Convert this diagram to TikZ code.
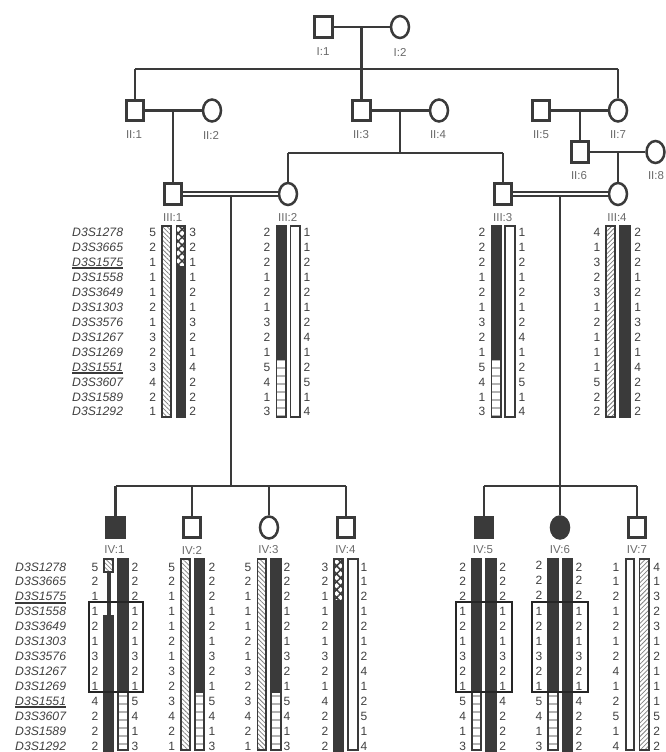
\documentclass[tikz,border=0pt]{standalone}
\usepackage{fontspec}
\setmainfont{Liberation Sans}
\usetikzlibrary{shapes.geometric,patterns.meta}
\definecolor{ink}{HTML}{3A3A3A}
\definecolor{txt}{HTML}{404040}
\definecolor{lab}{HTML}{6A6A6A}
\tikzset{
  male/.style={draw=ink,fill=white,rectangle,line width=2.9pt,inner sep=0,minimum width=17.5pt,minimum height=20.5pt},
  female/.style={draw=ink,fill=white,ellipse,line width=2.5pt,inner sep=0,minimum width=18pt,minimum height=22pt},
  affected/.style={fill=ink},
  idlab/.style={text=lab,font=\fontsize{11.5}{12}\selectfont,inner sep=0},
  num/.style={text=txt,font=\fontsize{12}{12}\selectfont,inner sep=0,text height=8.6pt,text depth=0pt},
  marker/.style={text=txt,font=\fontsize{12.2}{12}\selectfont\itshape,inner sep=0,anchor=west,text height=8.6pt,text depth=0pt},
  link/.style={draw=ink,line width=2.4pt},
  thinlink/.style={draw=ink,line width=1.8pt},
  twin/.style={draw=ink,double=white,double distance=2.2pt,line width=1.8pt},
  under/.style={draw=ink,line width=2pt},
  regionbox/.style={draw=black!85,line width=1.6pt},
  barbox/.style={draw=ink,line width=1.6pt,fill=white},
  solidbar/.style={fill=ink},
  nwhatch/.style={barbox,pattern={Lines[angle=-45,distance=3.2pt,line width=.75pt]},pattern color=black!50},
  nehatch/.style={barbox,pattern={Lines[angle=45,distance=3.2pt,line width=.75pt]},pattern color=black!50},
  stripes/.style={barbox,pattern={Lines[angle=0,distance=8pt,line width=1.6pt]},pattern color=black!30},
  checks/.style={barbox,pattern={Hatch[angle=45,distance=5.6pt,line width=1.5pt]},pattern color=ink},
}
\newcommand\solidseg[4]{\fill[solidbar] (#1,#3) rectangle (#2,#4);}
\newcommand\boxseg[5]{\draw[#5] ({#1+.8},{#3+.8}) rectangle ({#2-.8},{#4-.8});}
\newcommand\alleles[4]{\foreach \v [count=\i from 0] in {#4} {\node[num] (#1-\i) at (#2,{#3+14.93*\i}) {\v};}}
\newcommand\markers[3]{\foreach \v [count=\i from 0] in {D3S1278,D3S3665,D3S1575,D3S1558,D3S3649,D3S1303,D3S3576,D3S1267,D3S1269,D3S1551,D3S3607,D3S1589,D3S1292} {\node[marker] (#1-\i) at (#2,{#3+14.93*\i}) {\v};}
  \draw[under] ([yshift=-6pt]#1-2.west) -- ([yshift=-6pt]#1-2.east);
  \draw[under] ([yshift=-6pt]#1-9.west) -- ([yshift=-6pt]#1-9.east);}
\begin{document}
\begin{tikzpicture}[x=1pt,y=-1pt]
\fill[white] (0,0) rectangle (665,752);
\useasboundingbox (0,0) rectangle (665,752);
% persons
\node[male] (I1) at (323.5,27) {};
\node[female] (I2) at (400,27) {};
\node[male] (II1) at (135,110.5) {};
\node[female] (II2) at (212,110.5) {};
\node[male] (II3) at (361.5,110.5) {};
\node[female] (II4) at (439,110.5) {};
\node[male] (II5) at (541,110.5) {};
\node[female] (II7) at (618,110.5) {};
\node[male] (II6) at (580,152) {};
\node[female] (II8) at (655.5,152) {};
\node[male] (III1) at (173,194) {};
\node[female] (III2) at (288,194) {};
\node[male] (III3) at (503,194) {};
\node[female] (III4) at (618,194) {};
\node[male,affected] (IV1) at (115.5,527.5) {};
\node[male] (IV2) at (192,527.5) {};
\node[female] (IV3) at (269,527.5) {};
\node[male] (IV4) at (346,527.5) {};
\node[male,affected] (IV5) at (484,527.5) {};
\node[female,affected] (IV6) at (560,527.5) {};
\node[male] (IV7) at (637,527.5) {};
% labels
\foreach \n/\t/\x/\y in {lI1/I:1/323/52,lI2/I:2/400/52,lII1/II:1/134/135,lII2/II:2/211/135,lII3/II:3/361/135,lII4/II:4/438/135,lII5/II:5/541/135,lII7/II:7/618/135,lII6/II:6/579/176,lII8/II:8/656/176,lIII1/III:1/172.7/217.5,lIII2/III:2/287.7/217.5,lIII3/III:3/502.7/217.5,lIII4/III:4/617/217.5,lIV1/IV:1/114.5/550,lIV2/IV:2/192/550,lIV3/IV:3/268.5/550,lIV4/IV:4/345.5/550,lIV5/IV:5/483/550,lIV6/IV:6/560/550,lIV7/IV:7/637/550}
  {\node[idlab] (\n) at (\x,\y) {\t};}
% junctions
\coordinate (cI) at (361.5,27);
\coordinate (sIIl) at (135,69);
\coordinate (sIIr) at (618,69);
\coordinate (c1) at (173,110.5);
\coordinate (c3) at (400,110.5);
\coordinate (c5) at (580,110.5);
\coordinate (c6) at (618,152);
\coordinate (sIIIa) at (400,153);
\coordinate (sIIIl) at (288,153);
\coordinate (sIIIr) at (503,153);
\coordinate (c7) at (230.7,196);
\coordinate (c8) at (560,196);
\coordinate (sIVa) at (230.7,486);
\coordinate (sIVal) at (115.5,486);
\coordinate (sIVar) at (346,486);
\coordinate (sIVa2) at (192,486);
\coordinate (sIVa3) at (269,486);
\coordinate (sIVb) at (560,486);
\coordinate (sIVbl) at (484,486);
\coordinate (sIVbr) at (637,486);
% connectors
\draw[link] (I1) -- (I2);
\draw[link] (cI) -- (II3.north);
\draw[thinlink] (sIIl) -- (sIIr);
\draw[link] (sIIl) -- (II1.north);
\draw[thinlink] (sIIr) -- (II7.north);
\draw[link] (II1) -- (II2);
\draw[link] (II3) -- (II4);
\draw[link] (II5) -- (II7);
\draw[thinlink] (c1) -- (III1.north);
\draw[thinlink] (c3) -- (sIIIa);
\draw[link] (sIIIl) -- (sIIIr);
\draw[link] (sIIIl) -- (III2.north);
\draw[link] (sIIIr) -- (III3.north);
\draw[link] (c5) -- (II6.north);
\draw[link] (II6) -- (II8);
\draw[thinlink] (c6) -- (III4.north);
\draw[twin] (III1) -- (III2);
\draw[twin] (III3) -- (III4);
\draw[link] (c7) -- (sIVa);
\draw[link] (c8) -- (sIVb);
\draw[link] (sIVal) -- (sIVar);
\draw[link] (sIVbl) -- (sIVbr);
\draw[link] (sIVal) -- (IV1.north);
\draw[thinlink] (sIVa2) -- (IV2.north);
\draw[thinlink] (sIVa3) -- (IV3.north);
\draw[thinlink] (sIVar) -- (IV4.north);
\draw[link] (sIVbl) -- (IV5.north);
\draw[thinlink] (sIVb) -- (IV6.north);
\draw[thinlink] (sIVbr) -- (IV7.north);
% marker names
\markers{mA}{72}{232.5}
\markers{mB}{15}{566.7}
% generation III alleles
\alleles{aL1}{152.7}{232.5}{5,2,1,1,1,2,1,3,2,3,4,2,1}
\alleles{aR1}{192.7}{232.5}{3,2,1,1,2,1,3,2,1,4,2,2,2}
\alleles{aL2}{267}{232.5}{2,2,2,1,2,1,3,2,1,5,4,1,3}
\alleles{aR2}{307}{232.5}{1,1,2,1,2,1,2,4,1,2,5,1,4}
\alleles{aL3}{482}{232.5}{2,2,2,1,2,1,3,2,1,5,4,1,3}
\alleles{aR3}{522}{232.5}{1,1,2,1,2,1,2,4,1,2,5,1,4}
\alleles{aL4}{597}{232.5}{4,1,3,2,3,1,2,1,1,1,5,2,2}
\alleles{aR4}{637.7}{232.5}{2,2,2,1,2,1,3,2,1,4,2,2,2}
% generation IV alleles
\alleles{bL1}{95}{566.7}{5,2,1,1,2,1,3,2,1,4,2,2,2}
\alleles{bR1}{135}{566.7}{2,2,2,1,2,1,3,2,1,5,4,1,3}
\alleles{bL2}{171.7}{566.7}{5,2,1,1,1,2,1,3,2,3,4,2,1}
\alleles{bR2}{212}{566.7}{2,2,2,1,2,1,3,2,1,5,4,1,3}
\alleles{bL3}{248}{566.7}{5,2,1,1,1,2,1,3,2,3,4,2,1}
\alleles{bR3}{287}{566.7}{2,2,2,1,2,1,3,2,1,5,4,1,3}
\alleles{bL4}{325}{566.7}{3,2,1,1,2,1,3,2,1,4,2,2,2}
\alleles{bR4}{364}{566.7}{1,1,2,1,2,1,2,4,1,2,5,1,4}
\alleles{bL5}{462.7}{566.7}{2,2,2,1,2,1,3,2,1,5,4,1,3}
\alleles{bR5}{502.7}{566.7}{2,2,2,1,2,1,3,2,1,4,2,2,2}
\alleles{bL6a}{539}{565}{2,2,2}
\alleles{bL6b}{539}{611.5}{1,2,1,3,2,1,5,4,1,3}
\alleles{bR6a}{579}{566.7}{2}
\alleles{bR6b}{579}{580}{2,2}
\alleles{bR6c}{579}{611.5}{1,2,1,3,2,1,4,2,2,2}
\alleles{bL7}{616}{566.7}{1,1,2,1,2,1,2,4,1,2,5,1,4}
\alleles{bR7}{656.7}{566.7}{4,1,3,2,3,1,2,1,1,1,5,2,2}
% generation III bars
\boxseg{161}{171.5}{225}{417.5}{nwhatch}
\solidseg{175.5}{186}{267.5}{417.5}
\boxseg{175.5}{186}{225}{268}{checks}
\solidseg{275.7}{287}{225}{359}
\boxseg{275.7}{287}{358.5}{417.5}{stripes}
\boxseg{289.7}{300.5}{225}{417.5}{barbox}
\solidseg{490.5}{502}{225}{359}
\boxseg{490.5}{502}{358.5}{417.5}{stripes}
\boxseg{504}{515.5}{225}{417.5}{barbox}
\boxseg{605}{616}{225}{417.5}{nehatch}
\solidseg{619}{630.7}{225}{417.5}
% generation IV bars
\boxseg{103}{114}{558}{573}{nwhatch}
\solidseg{106.5}{110.5}{572}{616}
\solidseg{103}{114}{615}{752}
\solidseg{117}{128.7}{558}{692}
\boxseg{117}{128.7}{691}{751}{stripes}
\boxseg{180}{190.5}{558}{751}{nwhatch}
\solidseg{194}{205}{558}{692}
\boxseg{194}{205}{691}{751}{stripes}
\boxseg{256.7}{267}{558}{751}{nwhatch}
\solidseg{270}{281.7}{558}{692}
\boxseg{270}{281.7}{691}{751}{stripes}
\solidseg{333}{344}{601}{752}
\boxseg{333}{344}{558}{602}{checks}
\boxseg{347}{358.7}{558}{751}{barbox}
\solidseg{471}{482}{558}{692}
\boxseg{471}{482}{691}{751}{stripes}
\solidseg{485}{496.7}{558}{752}
\solidseg{547}{558.7}{558}{692}
\boxseg{547}{558.7}{691}{751}{stripes}
\solidseg{562}{573.3}{558}{752}
\boxseg{625}{634.5}{558}{751}{barbox}
\boxseg{638.5}{649.5}{558}{751}{nehatch}
% haplotype regions
\draw[regionbox] (89,602) rectangle (143,691.7);
\draw[regionbox] (455.7,602) rectangle (512,691.7);
\draw[regionbox] (531.7,602) rectangle (587.7,691.7);
\end{tikzpicture}
\end{document}
